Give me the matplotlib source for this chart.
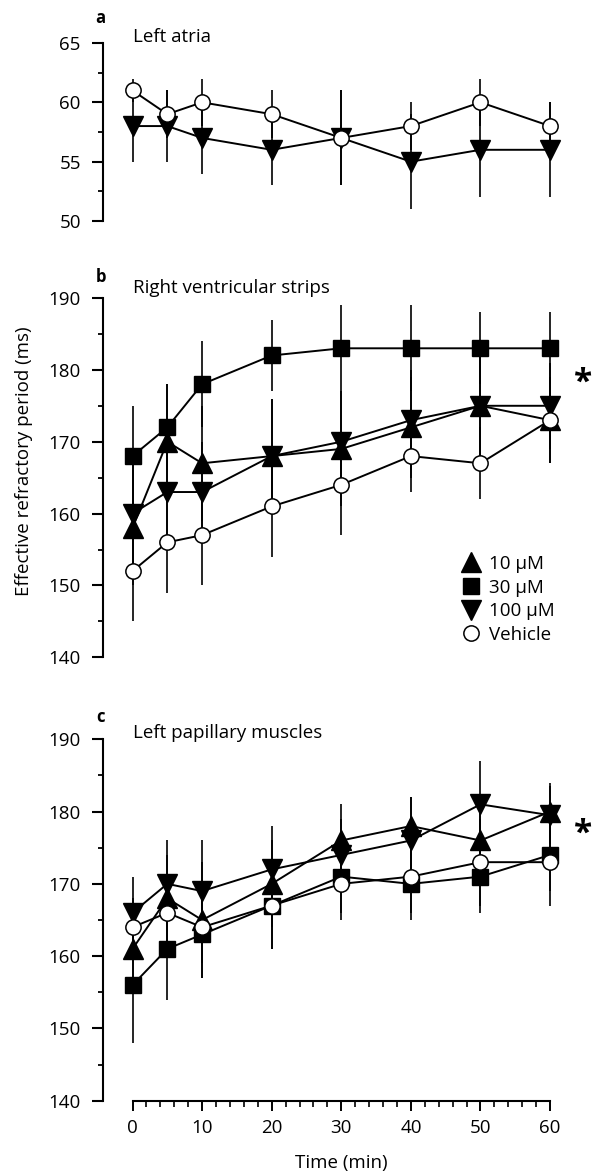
import numpy as np
import matplotlib
matplotlib.use("Agg")
import matplotlib.pyplot as plt
from matplotlib.lines import Line2D

plt.rcParams['font.family'] = ['Open Sans', 'DejaVu Sans']

# time points (min)
time = [0, 5, 10, 20, 30, 40, 50, 60]

# panel a: left atria
a_100 = [58, 58, 57, 56, 57, 55, 56, 56]
a_100_err = [3, 3, 3, 3, 4, 4, 4, 4]
a_veh = [61, 59, 60, 59, 57, 58, 60, 58]
a_veh_err = [1, 2, 2, 2, 4, 2, 2, 2]

# panel b: right ventricular strips
b_10 = [158, 170, 167, 168, 169, 172, 175, 173]
b_10_err = [8, 8, 8, 8, 8, 7, 7, 6]
b_30 = [168, 172, 178, 182, 183, 183, 183, 183]
b_30_err = [7, 6, 6, 5, 6, 6, 5, 5]
b_100 = [160, 163, 163, 168, 170, 173, 175, 175]
b_100_err = [7, 7, 7, 8, 7, 7, 7, 6]
b_veh = [152, 156, 157, 161, 164, 168, 167, 173]
b_veh_err = [7, 7, 7, 7, 7, 5, 5, 6]

# panel c: left papillary muscles
c_10 = [161, 168, 165, 170, 176, 178, 176, 180]
c_10_err = [5, 6, 8, 6, 5, 4, 5, 4]
c_30 = [156, 161, 163, 167, 171, 170, 171, 174]
c_30_err = [8, 7, 6, 6, 5, 5, 5, 5]
c_100 = [166, 170, 169, 172, 174, 176, 181, 179.5]
c_100_err = [5, 6, 7, 6, 5, 6, 6, 4]
c_veh = [164, 166, 164, 167, 170, 171, 173, 173]
c_veh_err = [4, 5, 5, 6, 5, 5, 6, 6]

labels = ["10 \u03bcM", "30 \u03bcM", "100 \u03bcM", "Vehicle"]

STY = {
    "10": dict(marker="^", ms=14, mfc="black", mec="black"),
    "30": dict(marker="s", ms=11, mfc="black", mec="black"),
    "100": dict(marker="v", ms=14, mfc="black", mec="black"),
    "veh": dict(marker="o", ms=11, mfc="white", mec="black", mew=1.1),
}
FS = 13.5

W, H = 595, 1173
fig = plt.figure(figsize=(W / 100, H / 100), dpi=100)

def axes_px(top, bottom):
    left, right = 103, 564
    return fig.add_axes([left / W, 1 - bottom / H, (right - left) / W, (bottom - top) / H])

def series(ax, y, err, key):
    ax.errorbar(time, y, yerr=err, color="black", lw=1.4, elinewidth=1.2,
                capsize=0, **STY[key])

def style(ax, ylim, major, minor, xaxis=False):
    ax.set_xlim(-4.24, 62)
    ax.set_ylim(*ylim)
    for s in ["top", "right"]:
        ax.spines[s].set_visible(False)
    ax.spines["left"].set_linewidth(1.5)
    ax.set_yticks(np.arange(ylim[0], ylim[1] + 0.1, major))
    ax.set_yticks(np.arange(ylim[0] + minor, ylim[1], major), minor=True)
    ax.tick_params(axis="y", which="major", length=8, width=1.5, labelsize=FS, pad=8)
    ax.tick_params(axis="y", which="minor", length=3.3, width=1.3)
    if xaxis:
        ax.spines["bottom"].set_bounds(0, 60)
        ax.spines["bottom"].set_linewidth(1.5)
        ax.set_xticks(range(0, 61, 10))
        ax.set_xticks(range(0, 61, 2), minor=True)
        ax.tick_params(axis="x", which="major", length=7.5, width=1.4, labelsize=FS, pad=6)
        ax.tick_params(axis="x", which="minor", length=4.5, width=1.2)
    else:
        ax.spines["bottom"].set_visible(False)
        ax.set_xticks([])
        ax.set_xticks([], minor=True)

# ---- panel a
ax_a = axes_px(43, 221)
series(ax_a, a_100, a_100_err, "100")
series(ax_a, a_veh, a_veh_err, "veh")
style(ax_a, (50, 65), 5, 2.5)
fig.text(100.6 / W, 1 - 18 / H, "a", fontsize=12, fontweight="bold", ha="center", va="center")
fig.text(132.8 / W, 1 - 36.7 / H, "Left atria", fontsize=FS, ha="left", va="center")

# ---- panel b
ax_b = axes_px(298, 657.3)
series(ax_b, b_30, b_30_err, "30")
series(ax_b, b_10, b_10_err, "10")
series(ax_b, b_100, b_100_err, "100")
series(ax_b, b_veh, b_veh_err, "veh")
style(ax_b, (140, 190), 10, 5)
fig.text(100.6 / W, 1 - 276.7 / H, "b", fontsize=12, fontweight="bold", ha="center", va="center")
fig.text(132.8 / W, 1 - 288 / H, "Right ventricular strips", fontsize=FS, ha="left", va="center")
ax_b.text(64.8, 178.1, "*", fontsize=24, fontweight="bold", ha="center", va="center", clip_on=False)

handles = [Line2D([], [], ls="none", color="black", **STY[k]) for k in ["10", "30", "100", "veh"]]
ax_b.legend(handles, labels, loc="upper left", bbox_to_anchor=(0.779, 0.285), frameon=False,
            fontsize=FS, handlelength=1.0, handletextpad=0.45, labelspacing=0.3,
            borderpad=0, borderaxespad=0)

# ---- panel c
ax_c = axes_px(739.3, 1100.7)
series(ax_c, c_30, c_30_err, "30")
series(ax_c, c_10, c_10_err, "10")
series(ax_c, c_100, c_100_err, "100")
series(ax_c, c_veh, c_veh_err, "veh")
style(ax_c, (140, 190), 10, 5, xaxis=True)
fig.text(100.6 / W, 1 - 716.7 / H, "c", fontsize=12, fontweight="bold", ha="center", va="center")
fig.text(132.8 / W, 1 - 733 / H, "Left papillary muscles", fontsize=FS, ha="left", va="center")
ax_c.text(64.8, 176.9, "*", fontsize=24, fontweight="bold", ha="center", va="center", clip_on=False)

fig.text(341.6 / W, 1 - 1163 / H, "Time (min)", fontsize=FS, ha="center", va="center")
fig.text(24 / W, 1 - 461 / H, "Effective refractory period (ms)", fontsize=FS,
         rotation=90, ha="center", va="center")

fig.savefig("out.png", dpi=100)
